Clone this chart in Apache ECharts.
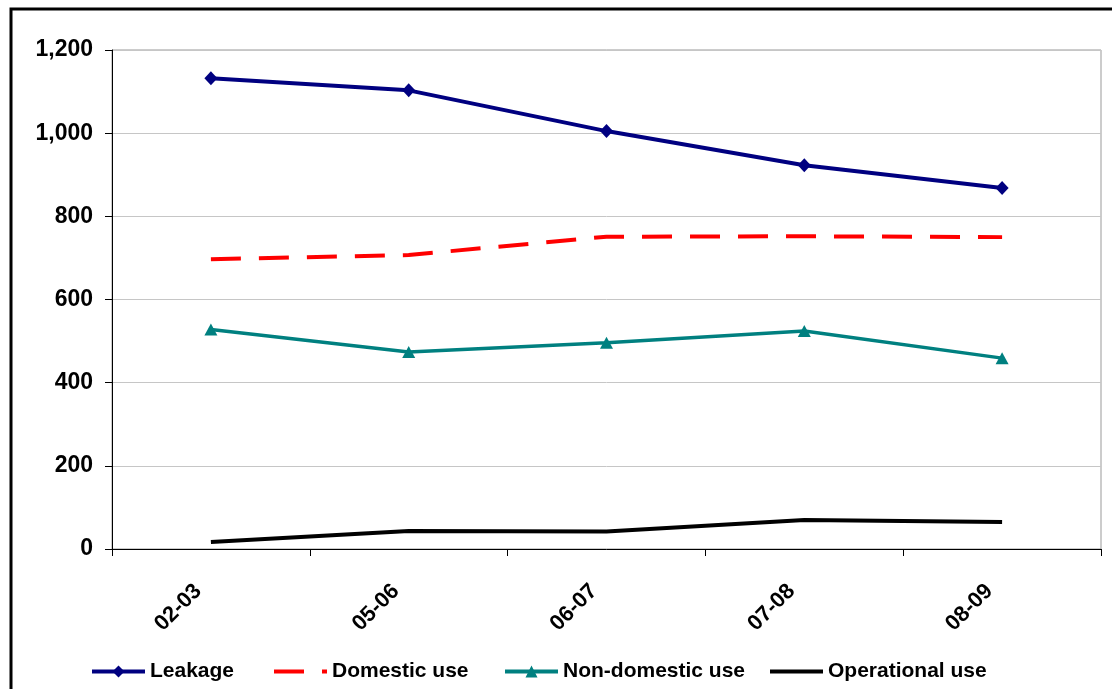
<!DOCTYPE html>
<html>
<head>
<meta charset="utf-8">
<script src="https://cdn.jsdelivr.net/npm/echarts@6/dist/echarts.min.js"></script>
<style>
  html, body { margin: 0; padding: 0; background: #fff; }
  #chart { width: 1112px; height: 689px; }
</style>
</head>
<body>
<div id="chart"></div>
<script>
// Years (financial years)
const years = ['02-03', '05-06', '06-07', '07-08', '08-09'];

// Components of supply
const leakage     = [1132, 1103, 1005, 923, 868];
const domestic    = [697, 707, 751, 752, 750];
const nonDomestic = [528, 474, 496, 524, 459];
const operational = [17, 43, 42, 70, 65];

// Value axis ticks
const yMin = 0, yMax = 1200, yStep = 200;

const font = '"Liberation Sans", Arial, sans-serif';

const chart = echarts.init(document.getElementById('chart'), null, { renderer: 'canvas' });

const legendText = { fontFamily: font, fontWeight: 'bold', fontSize: 21, color: '#000' };
// One legend block per series so each entry sits at its own position
function legendFor(name, left, lineStyle, hideSymbol) {
  return {
    data: [name], left: left, top: 661, padding: 0,
    itemWidth: 53, itemHeight: 15, itemGap: 0,
    textStyle: legendText, selectedMode: false,
    lineStyle: lineStyle,
    itemStyle: hideSymbol ? { opacity: 0 } : {}
  };
}

chart.setOption({
  animation: false,
  backgroundColor: '#fff',
  graphic: [{
    type: 'rect', silent: true,
    shape: { x: 11, y: 9, width: 1120, height: 700 },
    style: { fill: 'none', stroke: '#000', lineWidth: 3 }
  }],
  grid: {
    left: 112, right: 11, top: 50, bottom: 140,
    show: true, borderColor: '#999', borderWidth: 1
  },
  legend: [
    legendFor('Leakage', 90, { width: 4 }, false),
    legendFor('Domestic use', 272, { width: 4, type: [30, 18] }, true),
    legendFor('Non-domestic use', 503, { width: 4 }, false),
    legendFor('Operational use', 768, { width: 4 }, true)
  ],
  xAxis: {
    type: 'category', data: years, boundaryGap: true,
    axisLine: { lineStyle: { color: '#000', width: 1 } },
    axisTick: { show: true, length: 7, lineStyle: { color: '#000' } },
    axisLabel: {
      rotate: 45, margin: 26, interval: 0, padding: [0, 18, 0, 0],
      fontFamily: font, fontWeight: 'bold', fontSize: 22, color: '#000'
    },
    splitLine: { show: false }
  },
  yAxis: {
    type: 'value', min: yMin, max: yMax, interval: yStep,
    axisLine: { show: true, lineStyle: { color: '#000', width: 1 } },
    axisTick: { show: true, length: 7, lineStyle: { color: '#000' } },
    axisLabel: {
      margin: 19,
      fontFamily: font, fontWeight: 'bold', fontSize: 23, color: '#000',
      formatter: v => v.toLocaleString('en-US')
    },
    splitLine: { show: true, lineStyle: { color: '#c6c6c6', width: 1 } }
  },
  series: [
    {
      name: 'Leakage', type: 'line', data: leakage,
      symbol: 'diamond', symbolSize: [13, 14], showSymbol: true,
      lineStyle: { color: '#000080', width: 4 },
      itemStyle: { color: '#000080' }
    },
    {
      name: 'Domestic use', type: 'line', data: domestic,
      symbol: 'none',
      lineStyle: { color: '#ff0000', width: 4, type: [30, 18] },
      itemStyle: { color: '#ff0000' }
    },
    {
      name: 'Non-domestic use', type: 'line', data: nonDomestic,
      symbol: 'triangle', symbolSize: [13, 12], showSymbol: true,
      lineStyle: { color: '#008080', width: 3.5 },
      itemStyle: { color: '#008080' }
    },
    {
      name: 'Operational use', type: 'line', data: operational,
      symbol: 'none',
      lineStyle: { color: '#000', width: 4 },
      itemStyle: { color: '#000' }
    }
  ]
});
</script>
</body>
</html>
